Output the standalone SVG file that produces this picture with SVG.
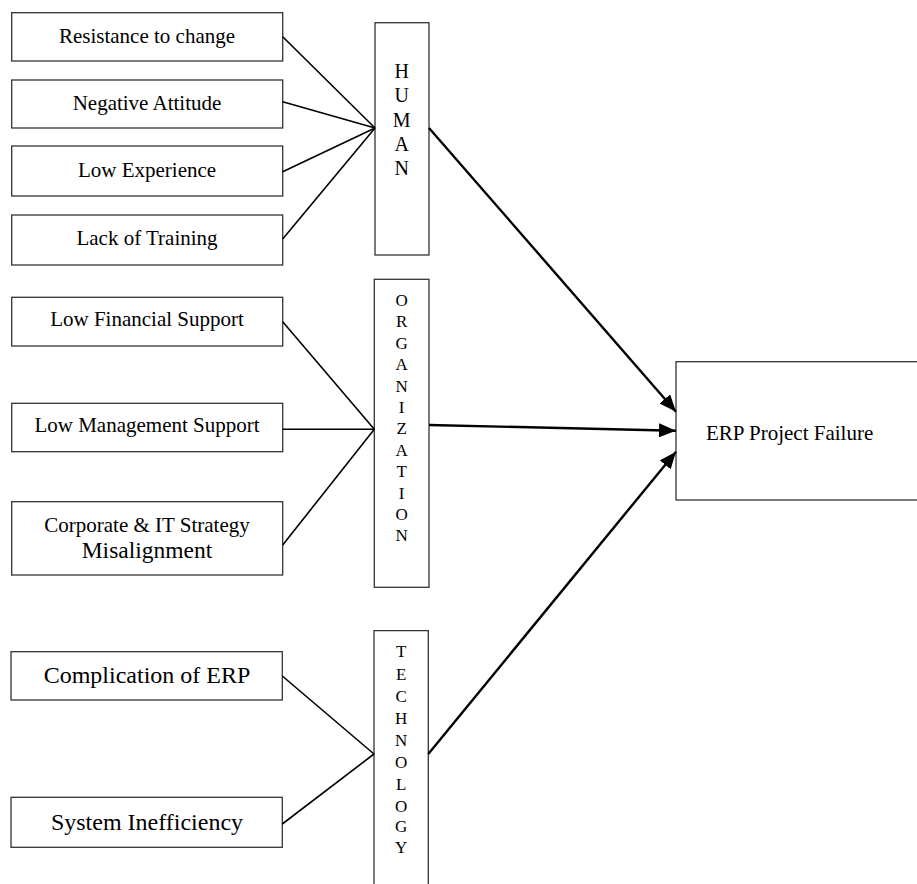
<svg xmlns="http://www.w3.org/2000/svg" width="917" height="884" viewBox="0 0 917 884">
<style>
.box{fill:#fff;stroke:#333;stroke-width:1.3}
.t{font-family:"Liberation Serif","Times New Roman",serif;fill:#000;text-anchor:middle}
.s21{font-size:21px}
.s24{font-size:24px}
.v20{font-size:20px}
.v17{font-size:17px}
.ln{stroke:#000;stroke-width:1.6;fill:none}
.ar{stroke:#000;stroke-width:2.4;fill:none;marker-end:url(#ah)}
</style>
<defs>
<marker id="ah" markerUnits="userSpaceOnUse" markerWidth="18" markerHeight="14" refX="17" refY="7" orient="auto">
<path d="M0,0 L17,7 L0,14 z" fill="#000"/>
</marker>
</defs>
<rect width="917" height="884" fill="#fff"/>
<g id="resistance"><rect class="box" x="11.7" y="12.7" width="271" height="48.3"/><text class="t s21" x="147" y="43">Resistance to change</text></g>
<g id="negative"><rect class="box" x="11.7" y="80" width="271" height="48"/><text class="t s21" x="147" y="110">Negative Attitude</text></g>
<g id="lowexp"><rect class="box" x="11.7" y="146" width="271" height="50"/><text class="t s21" x="147" y="177">Low Experience</text></g>
<g id="training"><rect class="box" x="11.7" y="215" width="271" height="50"/><text class="t s21" x="147" y="245">Lack of Training</text></g>
<g id="financial"><rect class="box" x="11.7" y="297.3" width="271" height="48.7"/><text class="t s21" x="147" y="326">Low Financial Support</text></g>
<g id="management"><rect class="box" x="11.7" y="403.3" width="271" height="48.4"/><text class="t s21" x="147" y="432">Low Management Support</text></g>
<g id="strategy"><rect class="box" x="11.7" y="501.7" width="271" height="73.3"/><text class="t s21" x="147" y="532">Corporate &amp; IT Strategy</text><text class="t" style="font-size:23.5px" x="147" y="558">Misalignment</text></g>
<g id="complication"><rect class="box" x="11" y="651.7" width="271.3" height="48.3"/><text class="t s24" x="147" y="683">Complication of ERP</text></g>
<g id="inefficiency"><rect class="box" x="11" y="797.3" width="271.3" height="50"/><text class="t s24" x="147" y="830">System Inefficiency</text></g>
<g id="human"><rect class="box" x="375" y="22.7" width="54" height="232.3"/>
<text class="t v20" x="401.7" y="78">H</text><text class="t v20" x="401.7" y="102">U</text><text class="t v20" x="401.7" y="126.5">M</text><text class="t v20" x="401.7" y="150.5">A</text><text class="t v20" x="401.7" y="175">N</text></g>
<g id="organization"><rect class="box" x="374.3" y="279.3" width="54.7" height="308"/>
<text class="t v17" x="401.7" y="306">O</text><text class="t v17" x="401.7" y="327.4">R</text><text class="t v17" x="401.7" y="348.8">G</text><text class="t v17" x="401.7" y="370.2">A</text><text class="t v17" x="401.7" y="391.6">N</text><text class="t v17" x="401.7" y="413">I</text><text class="t v17" x="401.7" y="434.4">Z</text><text class="t v17" x="401.7" y="455.8">A</text><text class="t v17" x="401.7" y="477.2">T</text><text class="t v17" x="401.7" y="498.6">I</text><text class="t v17" x="401.7" y="520">O</text><text class="t v17" x="401.7" y="541.4">N</text></g>
<g id="technology"><path class="box" d="M374,890 V630.7 H428.3 V890"/>
<text class="t v17" x="401.2" y="657">T</text><text class="t v17" x="401.2" y="680">E</text><text class="t v17" x="401.2" y="702">C</text><text class="t v17" x="401.2" y="723.5">H</text><text class="t v17" x="401.2" y="746">N</text><text class="t v17" x="401.2" y="768">O</text><text class="t v17" x="401.2" y="790">L</text><text class="t v17" x="401.2" y="811.5">O</text><text class="t v17" x="401.2" y="832">G</text><text class="t v17" x="401.2" y="852.5">Y</text></g>
<g id="erp"><rect class="box" x="676" y="361.7" width="260" height="138.3"/><text class="t s21" style="text-anchor:start" x="706" y="440">ERP Project Failure</text></g>
<g id="connectors">
<line class="ln" x1="282.7" y1="36.7" x2="375" y2="128"/>
<line class="ln" x1="282.7" y1="101.7" x2="375" y2="128"/>
<line class="ln" x1="282.7" y1="171.7" x2="375" y2="128"/>
<line class="ln" x1="282.7" y1="239" x2="375" y2="128"/>
<line class="ln" x1="282.7" y1="321.7" x2="374.3" y2="429.3"/>
<line class="ln" x1="282.7" y1="429.3" x2="374.3" y2="429.3"/>
<line class="ln" x1="282.7" y1="545" x2="374.3" y2="429.3"/>
<line class="ln" x1="282.3" y1="676" x2="374" y2="754"/>
<line class="ln" x1="282.3" y1="824" x2="374" y2="754"/>
<line class="ar" x1="429" y1="128" x2="676" y2="411.7"/>
<line class="ar" x1="429" y1="425" x2="676" y2="430.7"/>
<line class="ar" x1="428.3" y1="754" x2="676" y2="451.7"/>
</g>
</svg>
